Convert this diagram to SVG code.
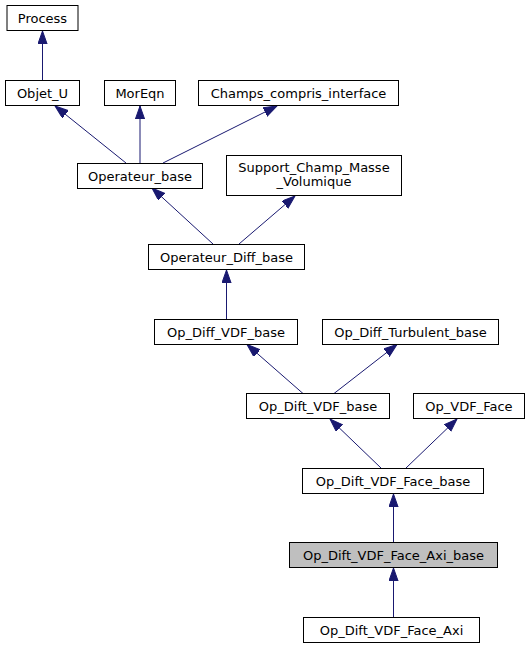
<svg xmlns="http://www.w3.org/2000/svg" width="530" height="649" viewBox="0 0 530 649">
<style>
.n rect{fill:#ffffff;stroke:#000000;stroke-width:1}
.n.sel rect{fill:#bfbfbf}
.n text{font-family:"DejaVu Sans","Liberation Sans",sans-serif;font-size:13px;fill:#000000;text-anchor:middle}
.e line{stroke:#191970;stroke-width:1;fill:none}
</style>
<defs>
<marker id="arr" markerUnits="userSpaceOnUse" markerWidth="15" markerHeight="11" refX="13.3" refY="4.7" orient="auto">
<path d="M0,0 L13.3,4.7 L0,9.4 Z" fill="#191970" stroke="#191970" stroke-width="1"/>
</marker>
</defs>
<rect width="530" height="649" fill="#ffffff"/>
<g id="edges" class="e">
<line x1="42.5" y1="80.5" x2="42.5" y2="31" marker-end="url(#arr)"/>
<line x1="126" y1="163" x2="55" y2="106" marker-end="url(#arr)"/>
<line x1="140" y1="163" x2="140" y2="106" marker-end="url(#arr)"/>
<line x1="163" y1="163" x2="277" y2="106" marker-end="url(#arr)"/>
<line x1="213" y1="244" x2="152" y2="188" marker-end="url(#arr)"/>
<line x1="239" y1="244" x2="295" y2="196" marker-end="url(#arr)"/>
<line x1="226.5" y1="319" x2="226.5" y2="270" marker-end="url(#arr)"/>
<line x1="303" y1="393.5" x2="247" y2="344.5" marker-end="url(#arr)"/>
<line x1="334" y1="393.5" x2="397" y2="344.5" marker-end="url(#arr)"/>
<line x1="381" y1="468" x2="330" y2="419" marker-end="url(#arr)"/>
<line x1="406" y1="468" x2="457" y2="419" marker-end="url(#arr)"/>
<line x1="393.5" y1="542" x2="393.5" y2="494" marker-end="url(#arr)"/>
<line x1="393.5" y1="617" x2="393.5" y2="568" marker-end="url(#arr)"/>
</g>
<g id="Process" class="n"><rect x="7" y="5.5" width="71" height="25"/><text x="42.5" y="22.5">Process</text></g>
<g id="Objet_U" class="n"><rect x="5.5" y="80.5" width="74" height="25"/><text x="42.5" y="97.5">Objet_U</text></g>
<g id="MorEqn" class="n"><rect x="104.5" y="80.5" width="71" height="25"/><text x="140" y="97.5">MorEqn</text></g>
<g id="Champs_compris_interface" class="n"><rect x="198.5" y="80.5" width="200" height="25"/><text x="298.5" y="97.5">Champs_compris_interface</text></g>
<g id="Operateur_base" class="n"><rect x="77.5" y="163.5" width="125" height="25"/><text x="140" y="180.5">Operateur_base</text></g>
<g id="Support_Champ_Masse_Volumique" class="n"><rect x="226.5" y="155.5" width="175" height="40"/><text x="314" y="171.5">Support_Champ_Masse</text><text x="314" y="186">_Volumique</text></g>
<g id="Operateur_Diff_base" class="n"><rect x="148.5" y="244.5" width="156" height="25"/><text x="226.5" y="261.5">Operateur_Diff_base</text></g>
<g id="Op_Diff_VDF_base" class="n"><rect x="154.5" y="319.5" width="143" height="25"/><text x="226" y="336.5">Op_Diff_VDF_base</text></g>
<g id="Op_Diff_Turbulent_base" class="n"><rect x="322.5" y="319.5" width="176" height="25"/><text x="410.5" y="336.5">Op_Diff_Turbulent_base</text></g>
<g id="Op_Dift_VDF_base" class="n"><rect x="246.5" y="393.5" width="143" height="25"/><text x="318" y="410.5">Op_Dift_VDF_base</text></g>
<g id="Op_VDF_Face" class="n"><rect x="413.5" y="393.5" width="111" height="25"/><text x="469" y="410.5">Op_VDF_Face</text></g>
<g id="Op_Dift_VDF_Face_base" class="n"><rect x="302.5" y="468.5" width="181" height="25"/><text x="393" y="485.5">Op_Dift_VDF_Face_base</text></g>
<g id="Op_Dift_VDF_Face_Axi_base" class="n sel"><rect x="289.5" y="542.5" width="208" height="25"/><text x="393.5" y="559.5">Op_Dift_VDF_Face_Axi_base</text></g>
<g id="Op_Dift_VDF_Face_Axi" class="n"><rect x="303.5" y="617.5" width="176" height="25"/><text x="391.5" y="634.5">Op_Dift_VDF_Face_Axi</text></g>
</svg>
